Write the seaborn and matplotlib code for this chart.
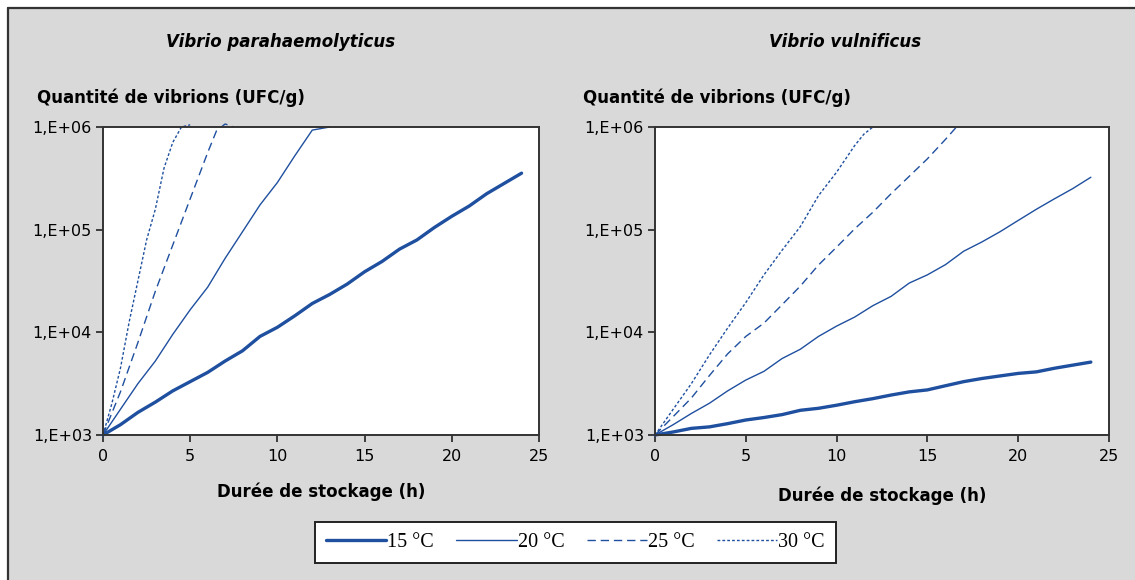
import numpy as np
import pandas as pd
import matplotlib
matplotlib.use("Agg")
import matplotlib.pyplot as plt
import seaborn as sns
from matplotlib.lines import Line2D
from matplotlib.patches import Rectangle

# Vibrio parahaemolyticus (UFC/g selon la durée de stockage en h)
vp_t15 = list(range(0, 25))
vp_15 = [1000, 1260, 1660, 2090, 2690, 3310, 4070, 5250, 6610, 9120, 11200, 14500,
         19100, 23400, 29500, 38900, 49000, 64600, 79400, 105000, 135000, 170000,
         224000, 282000, 355000]
vp_t20 = list(range(0, 14))
vp_20 = [1000, 1780, 3160, 5250, 9550, 16600, 27500, 52500, 95500, 174000, 288000,
         525000, 933000, 1000000]
vp_t25 = [0, 1, 2, 3, 4, 5, 6, 6.5, 7, 7.5]
vp_25 = [1000, 2630, 7940, 25100, 70800, 200000, 562000, 912000, 1070000, 1000000]
vp_t30 = [0, 0.5, 1, 1.5, 2, 2.5, 3, 3.5, 4, 4.5, 5]
vp_30 = [1000, 2000, 4470, 12600, 31600, 79400, 158000, 398000, 708000, 1000000, 1050000]

# Vibrio vulnificus
vv_t15 = list(range(0, 25))
vv_15 = [1000, 1070, 1160, 1200, 1290, 1400, 1480, 1580, 1740, 1820, 1950, 2110, 2260,
         2450, 2630, 2750, 3020, 3310, 3550, 3760, 3980, 4120, 4470, 4790, 5130]
vv_t20 = list(range(0, 25))
vv_20 = [1000, 1260, 1620, 2040, 2690, 3430, 4170, 5560, 6840, 9120, 11500, 14100, 18200,
         22400, 30200, 36300, 45700, 61700, 75900, 95500, 123000, 158000, 200000,
         251000, 324000]
vv_t25 = [0, 1, 2, 3, 4, 5, 6, 7, 8, 9, 10, 11, 12, 13, 14, 15, 16, 16.6]
vv_25 = [1000, 1510, 2290, 3800, 6170, 9120, 12300, 18600, 28200, 45200, 67600, 102000,
         148000, 224000, 331000, 490000, 759000, 1000000]
vv_t30 = [0, 1, 2, 3, 4, 5, 6, 7, 8, 9, 10, 11, 11.5, 12]
vv_30 = [1000, 1780, 3160, 6030, 11000, 19500, 36300, 63100, 107000, 214000, 363000,
         661000, 851000, 1000000]

temperatures = ["15 °C", "20 °C", "25 °C", "30 °C"]
species = ["Vibrio parahaemolyticus", "Vibrio vulnificus"]
y_ticks = [1e3, 1e4, 1e5, 1e6]
y_ticklabels = ["1,E+03", "1,E+04", "1,E+05", "1,E+06"]
x_ticks = [0, 5, 10, 15, 20, 25]

sns.set_theme(style="ticks")
plt.rcParams["font.family"] = ["DejaVu Sans"]
plt.rcParams["text.color"] = "black"

blue = "#1f4f9f"
styles = {
    "15 °C": dict(lw=2.4, ls="-"),
    "20 °C": dict(lw=1.0, ls="-"),
    "25 °C": dict(lw=1.0, ls=(0, (6, 3.5))),
    "30 °C": dict(lw=1.0, ls=(0, (2, 1.5))),
}

panels = [
    [(vp_t15, vp_15), (vp_t20, vp_20), (vp_t25, vp_25), (vp_t30, vp_30)],
    [(vv_t15, vv_15), (vv_t20, vv_20), (vv_t25, vv_25), (vv_t30, vv_30)],
]

fig = plt.figure(figsize=(11.35, 5.8), dpi=100)
fig.patch.set_facecolor("white")
# fond gris + cadre (haut et gauche)
x0, y0 = 8 / 1135, 1 - 8 / 580
fig.patches.append(Rectangle((x0, 0), 1 - x0, y0, transform=fig.transFigure,
                             facecolor="#d9d9d9", edgecolor="none", zorder=-10))
fig.add_artist(Line2D([x0, 1], [y0, y0], transform=fig.transFigure,
                      color="#333333", lw=1.6))
fig.add_artist(Line2D([x0, x0], [0, y0], transform=fig.transFigure,
                      color="#333333", lw=1.6))

ax_pos = [[103 / 1135, 145 / 580, 436 / 1135, 308 / 580],
          [655 / 1135, 145 / 580, 454 / 1135, 308 / 580]]
title_x = [281, 845]
ylab_x = [37, 583]
xlab_y = [-0.185, -0.198]

for k in range(2):
    ax = fig.add_axes(ax_pos[k])
    ax.set_facecolor("white")
    for temp, (t, v) in zip(temperatures, panels[k]):
        df = pd.DataFrame({"t": t, "v": v})
        sns.lineplot(data=df, x="t", y="v", ax=ax, color=blue,
                     linewidth=styles[temp]["lw"], linestyle=styles[temp]["ls"],
                     clip_on=False)
    ax.set_yscale("log")
    ax.set_ylim(1e3, 1e6)
    ax.set_xlim(0, 25)
    ax.set_yticks(y_ticks)
    ax.set_yticklabels(y_ticklabels)
    ax.yaxis.set_minor_locator(matplotlib.ticker.NullLocator())
    ax.set_xticks(x_ticks)
    ax.set_xticklabels([str(x) for x in x_ticks])
    ax.tick_params(axis="both", direction="out", length=5, width=1.2,
                   color="#222222", labelsize=11.5, labelcolor="black")
    ax.tick_params(axis="y", pad=3)
    ax.tick_params(axis="x", pad=5)
    for s in ax.spines.values():
        s.set_color("#333333")
        s.set_linewidth(1.4)
    ax.set_ylabel("")
    ax.set_xlabel("Durée de stockage (h)", fontsize=12, fontweight="bold",
                  color="black")
    ax.xaxis.set_label_coords(0.5, xlab_y[k])
    ax.xaxis.label.set_va("center")

    fig.text(title_x[k] / 1135, 1 - 42 / 580, species[k], ha="center", va="center",
             fontsize=12, fontstyle="italic", fontweight="bold", color="black")
    fig.text(ylab_x[k] / 1135, 1 - 98 / 580, "Quantité de vibrions (UFC/g)",
             ha="left", va="center", fontsize=12, fontweight="bold", color="black")

handles = [Line2D([], [], color=blue, lw=styles[t]["lw"], ls=styles[t]["ls"])
           for t in temperatures]
leg = fig.legend(handles, temperatures, loc="center",
                 bbox_to_anchor=(575.5 / 1135, 1 - 542.5 / 580), ncol=4,
                 frameon=True, fancybox=False, framealpha=1, edgecolor="#222222",
                 handlelength=3.0, handletextpad=0.05, columnspacing=1.1,
                 borderpad=0.55, prop={"family": "Liberation Serif", "size": 14.5})
leg.get_frame().set_linewidth(1.4)
for txt in leg.get_texts():
    txt.set_color("black")

fig.savefig("out.png", dpi=100)
